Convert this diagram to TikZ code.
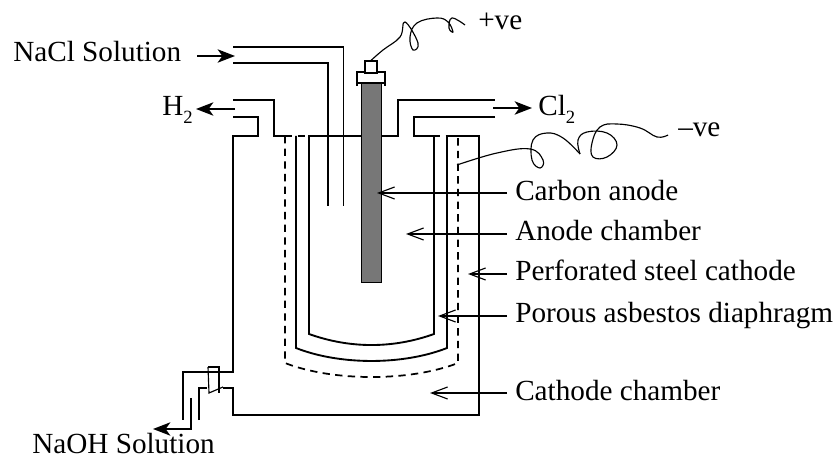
\documentclass[tikz,border=0pt]{standalone}
\usepackage{fontspec}
\setmainfont{Liberation Serif}
\usetikzlibrary{arrows.meta}
\definecolor{rodgray}{HTML}{777777}
\newcommand{\subtwo}{\raisebox{-5.5pt}{\fontsize{14}{14}\selectfont 2}}
\tikzstyle{wall} = [line width=1.4pt]
\tikzstyle{mesh} = [line width=1.3pt, dash pattern=on 5.5pt off 4pt]
\tikzstyle{thinline} = [line width=0.85pt]
\tikzstyle{wire} = [line width=0.85pt]
\tikzstyle{label} = [inner sep=0pt, anchor=base west, font=\fontsize{21.9}{24}\selectfont]
\tikzstyle{flow} = [line width=1.4pt, -{Stealth[length=13pt, width=10pt, inset=3.5pt]}]
\tikzstyle{pointer} = [line width=0.85pt, -{Straight Barb[length=12pt, width=9pt]}]
\begin{document}
\begin{tikzpicture}[x=0.75pt, y=-0.75pt]
\useasboundingbox (0,0) rectangle (835,459);

\node (nacl) [label] at (13,62) {NaCl Solution};
\node (hydrogen) [label] at (162,116) {H\subtwo};
\node (chlorine) [label] at (538,116) {Cl\subtwo};
\node (plusve) [label] at (478,30) {+ve};
\node (minusve) [label] at (678,137) {--ve};
\node (naoh) [label] at (32,453) {NaOH Solution};
\node (carbon) [label] at (515,201) {Carbon anode};
\node (anodech) [label] at (515,241) {Anode chamber};
\node (steel) [label] at (515,281) {Perforated steel cathode};
\node (asbestos) [label] at (515,323) {Porous asbestos diaphragm};
\node (cathodech) [label] at (515,401) {Cathode chamber};

\draw [wall] (233,47) -- (343.5,47) -- (343.5,206);
\draw [wall] (233,63) -- (328,63) -- (328,206);
\draw [wall] (233,100) -- (274,100) -- (274,136) -- (285,136);
\draw [wall] (233,117) -- (258,117) -- (258,136) -- (233,136) -- (233,372) -- (183,372) -- (183,420);
\draw [wall] (308,136) -- (361,136);
\draw [wall] (381,136) -- (398,136) -- (398,100) -- (495,100);
\draw [wall] (495,117) -- (414,117) -- (414,136) -- (433,136);
\draw [wall] (447,136) -- (479,136) -- (479,415) -- (233,415) -- (233,388) -- (223,388);
\draw [wall] (199,420) -- (199,388) -- (207,388);

\draw [mesh] (285,136) -- (308,136);
\draw [mesh] (433,136) -- (447,136);
\draw [mesh] (285,136) -- (285,363) .. controls (333,381.7) and (410,381.7) .. (458,363) -- (458,136);

\draw [wall] (296,136) -- (296,348) .. controls (340,365.3) and (403,365.3) .. (447,348) -- (447,136);
\draw [wall] (309,136) -- (309,334) .. controls (350,348.7) and (393,348.7) .. (434,334) -- (434,136);

\node (anode) [draw=black, wall, fill=rodgray, inner sep=0pt, minimum width=20pt*0.75, minimum height=199pt*0.75] at (371.5,183) {};
\node (terminal) [draw=black, thinline, fill=white, inner sep=0pt, minimum width=12pt*0.75, minimum height=12pt*0.75] at (371,67) {};
\draw [thinline] (357,86) -- (357,72) -- (365,72);
\draw [thinline] (377,72) -- (385,72) -- (385,86);
\draw [thinline] (357,83) -- (385,83);

\draw [thinline] (208,367) -- (219,367) -- (219,393);
\draw [thinline] (208,367) -- (209,393) -- (223,387);

\draw [wire] plot [smooth, tension=0.7] coordinates {(terminal.north) (383,50) (400,37) (405,22) (418,43) (413,50) (410,37) (417,23) (437,18) (448,22) (453,32) (449,28) (452,18) (465,25)};
\draw [wire] plot [smooth, tension=0.7] coordinates {(457,165) (497,153) (530,149) (543,160) (540,168) (532,160) (533,140) (547,133) (563,138) (580,154)};
\draw [wire] plot [smooth, tension=0.7] coordinates {(580,154) (578,140) (587,132) (607,133) (617,145) (607,157) (593,157) (592,143) (600,127) (617,124) (640,128) (657,137) (668,135)};

\coordinate (naclin) at (235,56);
\coordinate (naclout) at (197,56);
\coordinate (hydrogenin) at (235,109);
\coordinate (hydrogenout) at (196,109);
\coordinate (chlorinein) at (493,108);
\coordinate (chlorineout) at (532,108);
\coordinate (naohbend) at (191,429);
\coordinate (naohin) at (191,398);
\coordinate (naohout) at (153,429);
\draw [flow] (naclout) -- (naclin);
\draw [flow] (hydrogenin) -- (hydrogenout);
\draw [flow] (chlorinein) -- (chlorineout);
\draw [flow] (naohin) -- (naohbend) -- (naohout);

\coordinate (carbontip) at (377,193);
\coordinate (anodechtip) at (406,234);
\coordinate (steeltip) at (468,274);
\coordinate (asbestostip) at (438,316);
\coordinate (cathodechtip) at (430,393);
\draw [pointer] ([xshift=-6pt]carbon.west |- carbontip) -- (carbontip);
\draw [pointer] ([xshift=-6pt]anodech.west |- anodechtip) -- (anodechtip);
\draw [pointer] ([xshift=-6pt]steel.west |- steeltip) -- (steeltip);
\draw [pointer] ([xshift=-6pt]asbestos.west |- asbestostip) -- (asbestostip);
\draw [pointer] ([xshift=-6pt]cathodech.west |- cathodechtip) -- (cathodechtip);
\end{tikzpicture}
\end{document}
